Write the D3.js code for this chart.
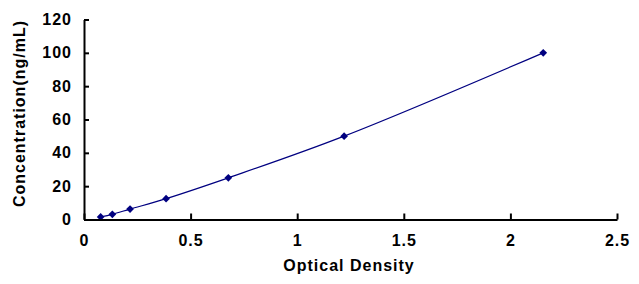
<!DOCTYPE html>
<html>
<head>
<meta charset="utf-8">
<script src="https://cdn.jsdelivr.net/npm/d3@7"></script>
<style>
  body { margin: 0; background: #fff; }
  text { font-family: "Liberation Sans", Arial, sans-serif; font-weight: bold; }
</style>
</head>
<body>
<svg></svg>
<script>
// values
let od = [0.078, 0.133, 0.216, 0.385, 0.677, 1.22, 2.154]
let conc = [1.56, 3.12, 6.25, 12.5, 25, 50, 100]

let xTicks = [0, 0.5, 1, 1.5, 2, 2.5]
let yTicks = [0, 20, 40, 60, 80, 100, 120]

let width = 639
let height = 284
let plotLeft = 84, plotRight = 617, plotTop = 19.5, plotBottom = 219.5

let svg = d3.select("svg")
    .attr("width", width)
    .attr("height", height)

let xScale = d3.scaleLinear().domain([0, 2.5]).range([plotLeft, plotRight])
let yScale = d3.scaleLinear().domain([0, 120]).range([plotBottom, plotTop])

let points = od.map((d, i) => [d, conc[i]])

// curve
let line = d3.line()
    .x(d => xScale(d[0]))
    .y(d => yScale(d[1]))
    .curve(d3.curveCatmullRom.alpha(0.5))

svg.append("path")
    .datum(points)
    .attr("d", line)
    .attr("fill", "none")
    .attr("stroke", "#000080")
    .attr("stroke-width", 1.2)

// markers
svg.selectAll(".dot")
    .data(points)
    .enter()
    .append("path")
    .attr("class", "dot")
    .attr("d", d3.symbol().type(d3.symbolDiamond2).size(38))
    .attr("transform", d => "translate(" + xScale(d[0]) + "," + yScale(d[1]) + ")")
    .attr("fill", "#000080")

// axes
let xAxis = d3.axisBottom(xScale)
    .tickValues(xTicks)
    .tickFormat(d => d)
    .tickSize(-6)
    .tickSizeOuter(0)
    .tickPadding(15)

let yAxis = d3.axisLeft(yScale)
    .tickValues(yTicks)
    .tickSize(-5)
    .tickSizeOuter(0)
    .tickPadding(12)

svg.append("g")
    .attr("transform", "translate(0," + plotBottom + ")")
    .call(xAxis)

svg.append("g")
    .attr("transform", "translate(" + plotLeft + ",0)")
    .call(yAxis)

svg.selectAll(".domain, .tick line")
    .attr("stroke", "#000")
    .attr("stroke-width", 2)

svg.selectAll(".tick text")
    .attr("fill", "#000")
    .style("font-size", "16px")
    .style("letter-spacing", "1px")

// axis titles
svg.append("text")
    .attr("x", 349)
    .attr("y", 271)
    .attr("text-anchor", "middle")
    .style("font-size", "16px")
    .style("letter-spacing", "1px")
    .text("Optical Density")

svg.append("text")
    .attr("transform", "translate(25,113.5) rotate(-90)")
    .attr("text-anchor", "middle")
    .style("font-size", "16px")
    .style("letter-spacing", "1px")
    .text("Concentration(ng/mL)")
</script>
</body>
</html>
